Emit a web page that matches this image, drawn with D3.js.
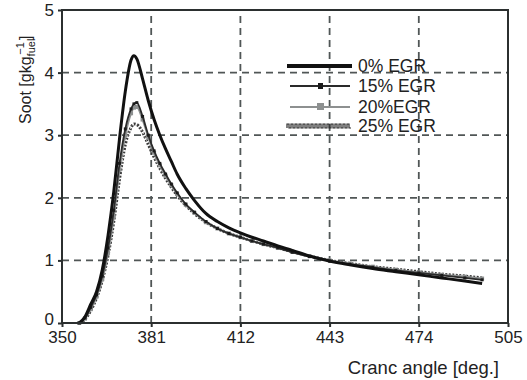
<!DOCTYPE html>
<html>
<head>
<meta charset="utf-8">
<script src="https://cdn.jsdelivr.net/npm/d3@7"></script>
<style>
  body { margin: 0; background: #fff; }
  svg text { font-family: "Liberation Sans", Arial, sans-serif; fill: #222; }
</style>
</head>
<body>
<svg id="chart"></svg>
<script>
// GLOBALS
var w = 527, h = 380;
var margin = {top: 10, right: 19, bottom: 57, left: 62};

var xTicks = [350, 381, 412, 443, 474, 505];
var yTicks = [0, 1, 2, 3, 4, 5];

var seriesNames = ["0% EGR", "15% EGR", "20%EGR", "25% EGR"];

var angles = [356, 358, 360, 362, 364, 366, 368, 370, 372, 374, 375, 376, 378, 380, 382, 384, 386, 388, 390, 393,
  396, 400, 404, 408, 412, 416, 420, 425, 430, 436, 443, 450, 458, 466, 474, 482, 490, 496];

var egr0 = [0, 0.1, 0.3, 0.5, 0.85, 1.4, 2.1, 2.95, 3.7, 4.2, 4.27, 4.22, 3.9, 3.55, 3.25, 3.0, 2.78, 2.58, 2.38, 2.15,
  1.96, 1.75, 1.62, 1.52, 1.44, 1.37, 1.31, 1.23, 1.16, 1.07, 0.99, 0.93, 0.87, 0.82, 0.77, 0.72, 0.67, 0.63];
var egr15 = [0, 0.08, 0.25, 0.45, 0.75, 1.2, 1.8, 2.55, 3.1, 3.42, 3.5, 3.52, 3.3, 3.0, 2.75, 2.55, 2.38, 2.22, 2.08, 1.9,
  1.77, 1.62, 1.51, 1.43, 1.37, 1.31, 1.26, 1.2, 1.13, 1.06, 0.99, 0.94, 0.89, 0.84, 0.8, 0.76, 0.72, 0.69];
var egr20 = [0, 0.07, 0.22, 0.42, 0.7, 1.12, 1.7, 2.45, 3.0, 3.35, 3.44, 3.45, 3.25, 2.97, 2.72, 2.52, 2.35, 2.2, 2.06, 1.89,
  1.76, 1.61, 1.51, 1.43, 1.37, 1.31, 1.26, 1.2, 1.14, 1.07, 1.0, 0.95, 0.9, 0.85, 0.81, 0.77, 0.74, 0.71];
var egr25 = [0, 0.06, 0.2, 0.4, 0.68, 1.08, 1.62, 2.3, 2.85, 3.12, 3.18, 3.17, 3.05, 2.85, 2.65, 2.47, 2.31, 2.17, 2.04, 1.88,
  1.75, 1.61, 1.51, 1.43, 1.37, 1.31, 1.26, 1.2, 1.14, 1.07, 1.0, 0.95, 0.9, 0.86, 0.82, 0.78, 0.75, 0.72];

var svg = d3.select("#chart").attr("width", w).attr("height", h);

var x = d3.scaleLinear().domain([350, 505]).range([margin.left, w - margin.right]);
var y = d3.scaleLinear().domain([0, 5]).range([h - margin.bottom, margin.top]);

// gridlines (dashed)
svg.append("g").selectAll("line")
  .data(xTicks.slice(1, -1))
  .enter().append("line")
    .attr("x1", function(d) { return x(d); }).attr("x2", function(d) { return x(d); })
    .attr("y1", y(0)).attr("y2", y(5))
    .attr("stroke", "#505656").attr("stroke-width", 1.8).attr("stroke-dasharray", "7,5");
svg.append("g").selectAll("line")
  .data(yTicks.slice(1, -1))
  .enter().append("line")
    .attr("x1", x(350)).attr("x2", x(505))
    .attr("y1", function(d) { return y(d); }).attr("y2", function(d) { return y(d); })
    .attr("stroke", "#505656").attr("stroke-width", 1.8).attr("stroke-dasharray", "7,5");

// series
var line = d3.line()
  .x(function(d) { return x(d[0]); })
  .y(function(d) { return y(d[1]); })
  .curve(d3.curveMonotoneX);

function pairs(vals) { return angles.map(function(a, i) { return [a, vals[i]]; }); }

// 25%
svg.append("path").attr("d", line(pairs(egr25)))
  .attr("fill", "none").attr("stroke", "#3a3a3a").attr("stroke-width", 3).attr("stroke-dasharray", "2,1.5");
svg.append("path").attr("d", line(pairs(egr25)))
  .attr("fill", "none").attr("stroke", "#ddd").attr("stroke-width", 1).attr("stroke-dasharray", "1,3");
// 20%
svg.append("path").attr("d", line(pairs(egr20)))
  .attr("fill", "none").attr("stroke", "#8d9090").attr("stroke-width", 2);
svg.append("g").selectAll("rect").data(pairs(egr20)).enter().append("rect")
  .attr("x", function(d) { return x(d[0]) - 2; }).attr("y", function(d) { return y(d[1]) - 2; })
  .attr("width", 4).attr("height", 4).attr("fill", "#8d9090");
// 15%
svg.append("path").attr("d", line(pairs(egr15)))
  .attr("fill", "none").attr("stroke", "#2a2a2a").attr("stroke-width", 1.8);
svg.append("g").selectAll("rect").data(pairs(egr15)).enter().append("rect")
  .attr("x", function(d) { return x(d[0]) - 1.5; }).attr("y", function(d) { return y(d[1]) - 1.5; })
  .attr("width", 3).attr("height", 3).attr("fill", "#1a1a1a");
// 0%
svg.append("path").attr("d", line(pairs(egr0)))
  .attr("fill", "none").attr("stroke", "#111").attr("stroke-width", 3);

// frame
svg.append("rect")
  .attr("x", x(350)).attr("y", y(5))
  .attr("width", x(505) - x(350)).attr("height", y(0) - y(5))
  .attr("fill", "none").attr("stroke", "#2b2f2f").attr("stroke-width", 2);

// axes
var xAxis = svg.append("g").attr("transform", "translate(0," + y(0) + ")")
  .call(d3.axisBottom(x).tickValues(xTicks).tickSize(4).tickPadding(4));
var yAxis = svg.append("g").attr("transform", "translate(" + x(350) + ",0)")
  .call(d3.axisLeft(y).tickValues(yTicks).tickSize(4).tickPadding(4).tickFormat(d3.format("d")));
[xAxis, yAxis].forEach(function(g) {
  g.select(".domain").remove();
  g.selectAll("line").attr("stroke", "#2b2f2f").attr("stroke-width", 2);
  g.selectAll("text").style("font-size", "17px").attr("fill", "#222");
});
// nudge the zero label up so it clears 350
yAxis.selectAll(".tick").filter(function(d) { return d === 0; }).select("text").attr("dy", "0.1em");

// axis titles
svg.append("text")
  .attr("x", 499).attr("y", 374)
  .attr("text-anchor", "end")
  .style("font-size", "18.5px")
  .text("Cranc angle [deg.]");

var yt = svg.append("text")
  .attr("transform", "translate(31,124) rotate(-90)")
  .style("font-size", "16px");
yt.append("tspan").text("Soot [gkg");
yt.append("tspan").attr("dy", 4).style("font-size", "11px").text("fuel");
yt.append("tspan").attr("dy", -11).attr("dx", -16).style("font-size", "11px").text("\u22121");
yt.append("tspan").attr("dy", 7).attr("dx", 2).text("]");

// legend
var legY = [66, 86, 107, 126];
var lx0 = 287, lx1 = 352;
var leg = svg.append("g");

leg.append("line").attr("x1", lx0).attr("x2", lx1).attr("y1", legY[0]).attr("y2", legY[0])
  .attr("stroke", "#111").attr("stroke-width", 4);
leg.append("line").attr("x1", lx0 + 3).attr("x2", lx1 - 2).attr("y1", legY[1]).attr("y2", legY[1])
  .attr("stroke", "#2a2a2a").attr("stroke-width", 2);
leg.append("rect").attr("x", 318).attr("y", legY[1] - 3).attr("width", 5).attr("height", 6).attr("fill", "#1a1a1a");
leg.append("line").attr("x1", lx0 + 3).attr("x2", lx1 - 2).attr("y1", legY[2]).attr("y2", legY[2])
  .attr("stroke", "#8d9090").attr("stroke-width", 2);
leg.append("rect").attr("x", 317).attr("y", legY[2] - 4).attr("width", 7).attr("height", 7).attr("fill", "#8d9090");

// wavy 25% sample
var wave = d3.path();
wave.moveTo(lx0, legY[3] + 2);
for (var xx = lx0; xx < lx1 - 1; xx += 4) {
  wave.lineTo(xx, legY[3] - 2);
  wave.lineTo(xx + 2, legY[3] - 2);
  wave.lineTo(xx + 2, legY[3] + 2);
  wave.lineTo(xx + 4, legY[3] + 2);
}
leg.append("path").attr("d", wave.toString()).attr("fill", "none").attr("stroke", "#2a2a2a").attr("stroke-width", 1.2);

leg.selectAll("text.lab").data(seriesNames).enter().append("text")
  .attr("class", "lab")
  .attr("x", 358)
  .attr("y", function(d, i) { return legY[i]; })
  .attr("dy", "0.35em")
  .style("font-size", "17.5px")
  .text(function(d) { return d; });
</script>
</body>
</html>
